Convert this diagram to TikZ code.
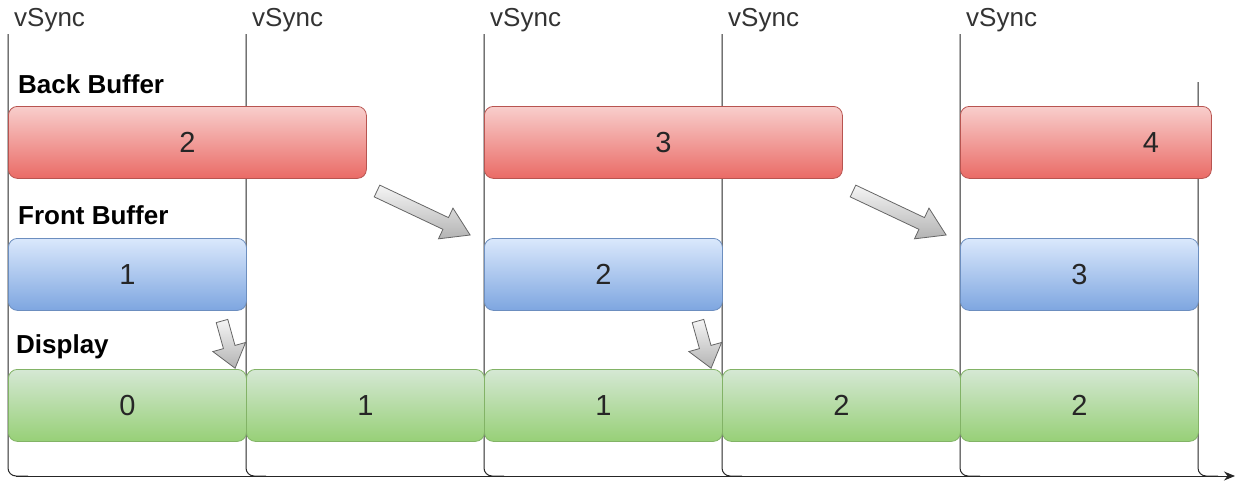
\documentclass[tikz,border=0pt]{standalone}
\usepackage{fontspec}
\setmainfont{Liberation Sans}
\usetikzlibrary{arrows.meta}
\definecolor{redT}{HTML}{F8CECC}\definecolor{redB}{HTML}{EA6B66}\definecolor{redS}{HTML}{B85450}
\definecolor{bluT}{HTML}{DAE8FC}\definecolor{bluB}{HTML}{7EA6E0}\definecolor{bluS}{HTML}{6C8EBF}
\definecolor{grnT}{HTML}{D5E8D4}\definecolor{grnB}{HTML}{97D077}\definecolor{grnS}{HTML}{82B366}
\definecolor{arrT}{HTML}{F5F5F5}\definecolor{arrB}{HTML}{B3B3B3}\definecolor{arrS}{HTML}{666666}
\definecolor{txt}{HTML}{333333}
\newcommand{\blockarrow}[7]{% x y angle length shafthalf headhalf headlen
  \begin{scope}[shift={(#1,#2)},rotate=#3]
    \draw[blockarr] (0,-#5) -- ({#4-#7},-#5) -- ({#4-#7},-#6) -- (#4,0) -- ({#4-#7},#6) -- ({#4-#7},#5) -- (0,#5) -- cycle;
  \end{scope}}
\begin{document}
\begin{tikzpicture}[x=1pt,y=-1pt,
  every node/.style={font=\fontsize{26}{30}\selectfont},
  box/.style={draw, line width=0.8pt, rounded corners=9pt, minimum height=72pt, inner sep=0pt, anchor=north west, text=black!85, font=\fontsize{29}{32}\selectfont},
  redbox/.style={box, draw=redS, top color=redT, bottom color=redB},
  blubox/.style={box, draw=bluS, top color=bluT, bottom color=bluB},
  grnbox/.style={box, draw=grnS, top color=grnT, bottom color=grnB},
  blockarr/.style={draw=arrS, line width=0.8pt, top color=arrT, bottom color=arrB},
  vline/.style={draw=black!85, line width=1pt, rounded corners=8pt},
  vsync/.style={anchor=west, text=txt, inner sep=0pt},
  rowlabel/.style={anchor=west, font=\fontsize{26}{30}\selectfont\bfseries, inner sep=0pt, text=black}]
\useasboundingbox (0,0) rectangle (1235,482);
% time lines
\coordinate (axisend) at (1235,476);
\foreach \x in {8,246,484,722,960} {\path[vline] (\x,34) |- (\x+20,476);}
\path[vline] (1198,82) |- (1218,476);
\draw[line width=1pt, black!85, -{Stealth[length=11pt,width=9pt]}] (16,476) -- (axisend);
% vSync labels
\foreach \x [count=\i] in {14,252,490,728,966} {\node[vsync] (vs\i) at (\x,20) {vSync};}
% row labels
\node[rowlabel] (lback) at (18,84) {Back Buffer};
\node[rowlabel] (lfront) at (18,215) {Front Buffer};
\node[rowlabel] (ldisp) at (16,347) {Display};
% back buffer
\node[redbox, minimum width=358pt] (b2) at (8,106) {2};
\node[redbox, minimum width=358pt] (b3) at (484,106) {3};
\node[redbox, minimum width=251pt] (b4) at (960,106) {\hspace*{130pt}4};
% front buffer
\node[blubox, minimum width=238pt] (f1) at (8,238) {1};
\node[blubox, minimum width=238pt] (f2) at (484,238) {2};
\node[blubox, minimum width=238pt] (f3) at (960,238) {3};
% display
\node[grnbox, minimum width=238pt] (d0) at (8,369) {0};
\node[grnbox, minimum width=238pt] (d1) at (246,369) {1};
\node[grnbox, minimum width=238pt] (d2) at (484,369) {1};
\node[grnbox, minimum width=238pt] (d3) at (722,369) {2};
\node[grnbox, minimum width=238pt] (d4) at (960,369) {2};
% block arrows
\blockarrow{377}{191}{-25.3}{103}{6.5}{17}{27}
\blockarrow{853}{191}{-25.3}{103}{6.5}{17}{27}
\blockarrow{222}{321}{-74.5}{49}{6}{17}{22}
\blockarrow{698}{321}{-74.5}{49}{6}{17}{22}
\end{tikzpicture}
\end{document}
